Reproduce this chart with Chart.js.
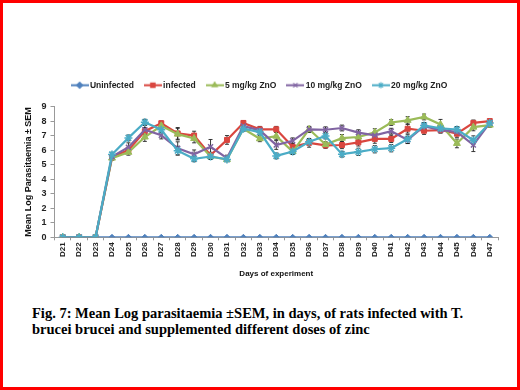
<!DOCTYPE html>
<html>
<head>
<meta charset="utf-8">
<script src="https://cdn.jsdelivr.net/npm/chart.js@4.4.1/dist/chart.umd.min.js"></script>
<style>
  html, body { margin: 0; padding: 0; background: #fff; }
  #frame { position: absolute; left: 0; top: 0; width: 514px; height: 384px; border: 3px solid #ff0000; }
  #wrap { position: absolute; left: 0; top: 0; width: 520px; height: 290px; }
  #caption { position: absolute; left: 32px; top: 305px; font-family: "Liberation Serif", "Times New Roman", serif;
    font-weight: bold; font-size: 14.5px; line-height: 16px; color: #000; white-space: nowrap; }
</style>
</head>
<body>
<div id="frame"></div>
<div id="wrap"><canvas id="myChart" width="520" height="290"></canvas></div>
<div id="caption">Fig. 7: Mean Log parasitaemia ±SEM, in days, of rats infected with T.<br>brucei brucei and supplemented different doses of zinc</div>
<script>
var days = ["D21","D22","D23","D24","D25","D26","D27","D28","D29","D30","D31","D32","D33","D34",
            "D35","D36","D37","D38","D39","D40","D41","D42","D43","D44","D45","D46","D47"];

var uninfected = [0,0,0,0,0,0,0,0,0,0,0,0,0,0,0,0,0,0,0,0,0,0,0,0,0,0,0];
var infected = [0,0,0,5.5,6.0,7.3,7.85,7.15,7.0,5.65,6.7,7.87,7.43,7.43,6.23,6.5,6.32,6.35,6.53,6.77,6.77,7.47,7.33,7.38,7.13,7.87,8.0];
var zn5 = [0,0,0,5.45,5.85,6.9,7.67,7.1,6.8,5.56,5.35,7.47,6.78,6.96,5.9,7.43,6.38,6.82,6.9,7.22,7.9,8.05,8.28,7.76,6.46,7.58,7.72];
var zn10 = [0,0,0,5.55,6.2,7.4,7.02,6.12,5.71,6.23,5.45,7.65,7.36,6.35,6.64,7.43,7.4,7.52,7.2,7.02,7.3,6.7,7.65,7.38,7.26,6.35,7.87];
var zn20 = [0,0,0,5.7,6.84,7.92,7.4,5.96,5.4,5.56,5.36,7.47,7.24,5.6,5.9,6.57,6.97,5.72,5.88,6.06,6.13,6.76,7.7,7.5,7.42,6.68,7.87];

// SEM values (rough)
var semInfected = [0,0,0,0.15,0.2,0.25,0.15,0.4,0.3,0.2,0.3,0.15,0.2,0.2,0.2,0.3,0.2,0.25,0.25,0.3,0.25,0.3,0.25,0.2,0.25,0.2,0.15];
var semZn5 = [0,0,0,0.15,0.2,0.3,0.2,0.4,0.3,0.2,0.15,0.15,0.2,0.25,0.2,0.2,0.2,0.25,0.2,0.25,0.2,0.25,0.2,0.35,0.3,0.25,0.15];
var semZn10 = [0,0,0,0.15,0.3,0.3,0.25,0.45,0.3,0.5,0.2,0.15,0.2,0.3,0.2,0.2,0.2,0.2,0.2,0.25,0.2,0.25,0.2,0.2,0.25,0.45,0.15];
var semZn20 = [0,0,0,0.15,0.2,0.2,0.2,0.3,0.2,0.2,0.15,0.15,0.2,0.2,0.2,0.2,0.2,0.2,0.25,0.25,0.25,0.3,0.2,0.2,0.2,0.3,0.15];

var names = ["Uninfected", "infected", "5 mg/kg ZnO", "10 mg/kg ZnO", "20 mg/kg ZnO"];
var colors = ["#4F81BD", "#D9463F", "#9BBB59", "#8064A2", "#4BACC6"];
var styles = ["rectRot", "rect", "triangle", "crossRot", "star"];
var sizes = [3, 3.5, 4, 3.5, 4];

// little line+marker icons for the legend
function legendIcon(i) {
  var c = document.createElement('canvas');
  c.width = 18; c.height = 9;
  var g = c.getContext('2d');
  g.strokeStyle = colors[i];
  g.lineWidth = 2;
  g.beginPath(); g.moveTo(0, 4.5); g.lineTo(18, 4.5); g.stroke();
  g.fillStyle = colors[i];
  g.lineWidth = 1.2;
  Chart.helpers.drawPoint(g, {pointStyle: styles[i], radius: 3, borderWidth: 1.2}, 9, 4.5);
  if (styles[i] != 'crossRot' && styles[i] != 'star') g.fill();
  return c;
}

// drawn before the lines so markers sit on top, like in Excel
var errorBars = {
  id: 'errorBars',
  beforeDatasetsDraw: function(chart) {
    var ctx = chart.ctx;
    var y = chart.scales.y;
    ctx.save();
    ctx.strokeStyle = '#222';
    ctx.lineWidth = 0.9;
    chart.data.datasets.forEach(function(ds, di) {
      if (!ds.sem) return;
      var meta = chart.getDatasetMeta(di);
      meta.data.forEach(function(pt, k) {
        var s = ds.sem[k];
        if (!s) return;
        var v = ds.data[k];
        var y1 = y.getPixelForValue(v - s), y2 = y.getPixelForValue(v + s);
        ctx.beginPath();
        ctx.moveTo(pt.x, y1); ctx.lineTo(pt.x, y2);
        ctx.moveTo(pt.x - 2, y1); ctx.lineTo(pt.x + 2, y1);
        ctx.moveTo(pt.x - 2, y2); ctx.lineTo(pt.x + 2, y2);
        ctx.stroke();
      });
    });
    ctx.restore();
  }
};

// extra space under the legend
var legendGap = {
  id: 'legendGap',
  beforeInit: function(chart) {
    var fit = chart.legend.fit;
    chart.legend.fit = function() {
      fit.call(this);
      this.height += 7;
    };
  }
};

var seriesData = [uninfected, infected, zn5, zn10, zn20];
var semData = [null, semInfected, semZn5, semZn10, semZn20];

var datasets = [];
for (i = 0; i < names.length; i++) {
  datasets.push({
    label: names[i],
    data: seriesData[i],
    sem: semData[i],
    borderColor: colors[i],
    backgroundColor: colors[i],
    pointStyle: styles[i],
    pointRadius: sizes[i],
    pointBorderWidth: (styles[i] == 'crossRot' || styles[i] == 'star') ? 1.5 : 1,
    borderWidth: 2.2,
    order: 4 - i,
    tension: 0
  });
}

var ctx = document.getElementById('myChart').getContext('2d');
var myChart = new Chart(ctx, {
  type: 'line',
  data: { labels: days, datasets: datasets },
  plugins: [errorBars, legendGap],
  options: {
    responsive: false,
    animation: false,
    layout: { padding: { top: 68, left: 23, right: 22, bottom: 11 } },
    plugins: {
      tooltip: { enabled: false },
      legend: {
        position: 'top',
        labels: {
          usePointStyle: true,
          pointStyleWidth: 12,
          padding: 13,
          color: '#222',
          font: { family: 'Liberation Sans', size: 8.5, weight: 'bold' },
          sort: function(a, b) { return a.datasetIndex - b.datasetIndex; },
          generateLabels: function(chart) {
            return chart.data.datasets.map(function(ds, i) {
              return { text: ds.label, pointStyle: legendIcon(i), datasetIndex: i,
                       fillStyle: colors[i], strokeStyle: colors[i], lineWidth: 0, fontColor: '#222' };
            });
          }
        }
      }
    },
    scales: {
      x: {
        offset: true,
        grid: { display: true, drawOnChartArea: false, offset: true, color: '#999', tickLength: 3 },
        border: { color: '#999' },
        ticks: { autoSkip: false, minRotation: 90, maxRotation: 90, padding: 2, color: '#222',
                 font: { family: 'Liberation Sans', size: 8, weight: 'bold' } },
        title: { display: true, text: 'Days of experiment', color: '#111', padding: { top: 4, bottom: 0 },
                 font: { family: 'Liberation Sans', size: 8, weight: 'bold' } },
        afterFit: function(scale) { scale.height = 41.7; }
      },
      y: {
        min: 0, max: 9,
        ticks: { stepSize: 1, padding: 4, color: '#222', font: { family: 'Liberation Sans', size: 9, weight: 'bold' } },
        grid: { drawOnChartArea: false, color: '#999', tickLength: 4 },
        border: { color: '#999' },
        title: { display: true, text: 'Mean Log Parasitaemia ± SEM', color: '#111', padding: 0,
                 font: { family: 'Liberation Sans', size: 9, weight: 'bold' } },
        afterFit: function(scale) { scale.width = 31.5; }
      }
    }
  }
});
</script>
</body>
</html>
